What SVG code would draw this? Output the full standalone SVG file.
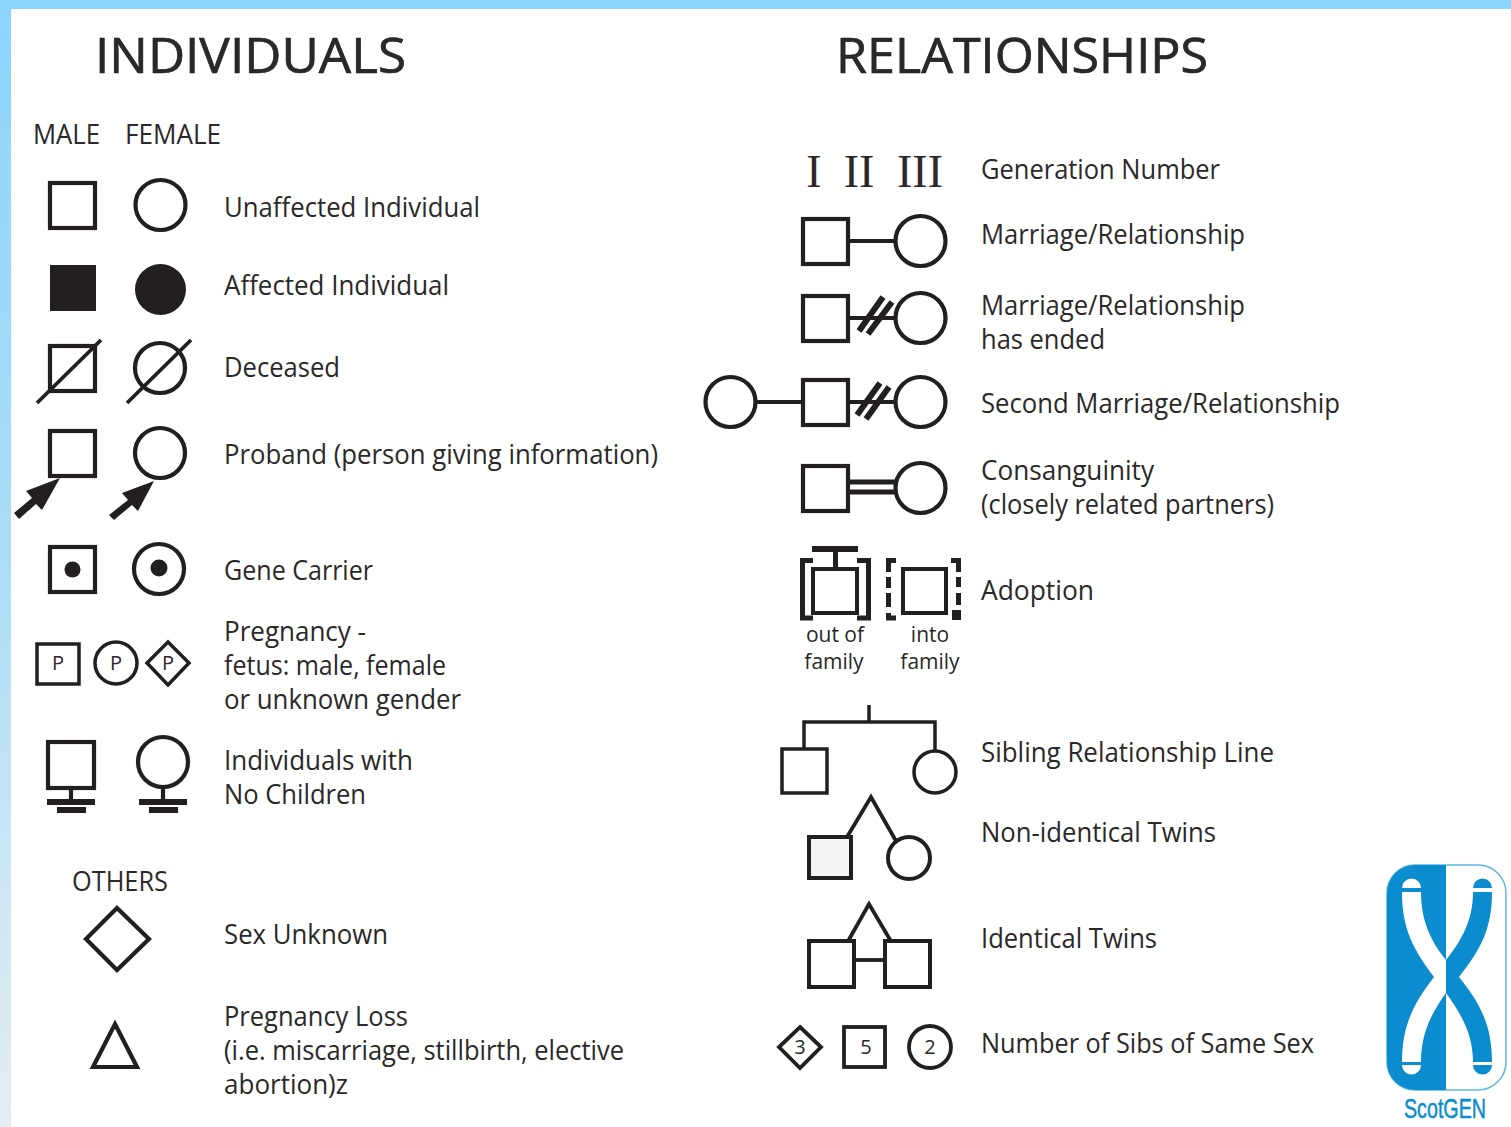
<svg xmlns="http://www.w3.org/2000/svg" width="1511" height="1127" viewBox="0 0 1511 1127">
<style>
text{font-family:"Open Sans","Noto Sans","Liberation Sans",sans-serif;fill:#2b2829;font-size:27px}
.h{font-size:50px;stroke:#231f20;stroke-width:.7}
.s{font-size:21px;text-anchor:middle}
.m{font-size:20px;text-anchor:middle}
.o{fill:#fff;stroke:#231f20;stroke-width:4.2}
.n{fill:none;stroke:#231f20;stroke-width:4.2}
.l{fill:none;stroke:#231f20;stroke-width:3.800}
.k{fill:#231f20;stroke:none}
.r{font-family:"Liberation Serif",serif;font-size:46px;text-anchor:middle}
</style>
<defs>
<linearGradient id="side" x1="0" y1="0" x2="0" y2="1"><stop offset="0" stop-color="#8cd6fd"/><stop offset="0.45" stop-color="#a8dcf6"/><stop offset="1" stop-color="#e4eef3"/></linearGradient>
</defs>
<rect width="1511" height="1127" fill="#fff"/>
<rect x="0" y="0" width="11" height="1127" fill="url(#side)"/>
<rect x="0" y="0" width="1511" height="9" fill="#8cd6fd"/>

<g id="headers">
<text class="h" x="95" y="73" textLength="311" lengthAdjust="spacingAndGlyphs">INDIVIDUALS</text>
<text class="h" x="836" y="73" textLength="372" lengthAdjust="spacingAndGlyphs">RELATIONSHIPS</text>
<text x="33" y="144" textLength="67" lengthAdjust="spacingAndGlyphs">MALE</text>
<text x="125" y="144" textLength="96" lengthAdjust="spacingAndGlyphs">FEMALE</text>
<text x="72" y="891" textLength="96" lengthAdjust="spacingAndGlyphs">OTHERS</text>
</g>

<g id="unaffected">
<rect class="o" x="50" y="183" width="45" height="45"/>
<circle class="o" cx="160.500" cy="205" r="25"/>
<text x="224" y="217" textLength="256" lengthAdjust="spacingAndGlyphs">Unaffected Individual</text>
</g>
<g id="affected">
<rect class="k" x="50" y="265" width="46" height="46"/>
<circle class="k" cx="160.500" cy="289.500" r="25.500"/>
<text x="224" y="295" textLength="225" lengthAdjust="spacingAndGlyphs">Affected Individual</text>
</g>
<g id="deceased">
<rect class="o" x="50" y="346" width="45" height="45"/>
<line class="l" x1="37" y1="403" x2="101" y2="340"/>
<circle class="o" cx="160" cy="368" r="25"/>
<line class="l" x1="127" y1="403" x2="191" y2="340"/>
<text x="224" y="377" textLength="116" lengthAdjust="spacingAndGlyphs">Deceased</text>
</g>
<g id="proband">
<rect class="o" x="50" y="431" width="45" height="45"/>
<path class="k" d="M60 478L26 491 32 498 14 513 19 519 36 504 42 510Z"/>
<circle class="o" cx="160" cy="453" r="25"/>
<path class="k" d="M154 481L122 493 128 500 109 515 114 520 132 505 138 511Z"/>
<text x="224" y="464" textLength="434" lengthAdjust="spacingAndGlyphs">Proband (person giving information)</text>
</g>
<g id="carrier">
<rect class="o" x="50" y="547" width="45" height="45"/>
<circle class="k" cx="72.500" cy="569.500" r="8"/>
<circle class="o" cx="159" cy="569" r="25"/>
<circle class="k" cx="159" cy="568" r="8.500"/>
<text x="224" y="580" textLength="149" lengthAdjust="spacingAndGlyphs">Gene Carrier</text>
</g>
<g id="pregnancy">
<rect class="l" style="stroke-width:3.500" x="37" y="644" width="42" height="40"/>
<text class="m" x="58" y="670">P</text>
<circle class="l" style="stroke-width:3.500" cx="116" cy="663" r="21"/>
<text class="m" x="116" y="670">P</text>
<path class="l" style="stroke-width:3.500" d="M168 642L189 663 168 685 147 663Z"/>
<text class="m" x="168" y="670">P</text>
<text x="224" y="641" textLength="142" lengthAdjust="spacingAndGlyphs">Pregnancy -</text>
<text x="224" y="675" textLength="222" lengthAdjust="spacingAndGlyphs">fetus: male, female</text>
<text x="224" y="709" textLength="237" lengthAdjust="spacingAndGlyphs">or unknown gender</text>
</g>
<g id="no-children">
<rect class="o" x="48" y="742" width="46" height="46"/>
<path class="n" d="M71 788V801"/>
<path class="k" d="M47 799H95V805H47ZM57 807H86V813H57Z"/>
<circle class="o" cx="163" cy="762" r="25"/>
<path class="n" d="M163 787V801"/>
<path class="k" d="M139 799H187V805H139ZM149 807H178V813H149Z"/>
<text x="224" y="770" textLength="189" lengthAdjust="spacingAndGlyphs">Individuals with</text>
<text x="224" y="804" textLength="142" lengthAdjust="spacingAndGlyphs">No Children</text>
</g>
<g id="sex-unknown">
<path class="o" d="M117 908L149 939 117 970 86 939Z"/>
<text x="224" y="944" textLength="164" lengthAdjust="spacingAndGlyphs">Sex Unknown</text>
</g>
<g id="pregnancy-loss">
<path class="o" d="M115 1024L137 1067H93Z"/>
<text x="224" y="1026" textLength="184" lengthAdjust="spacingAndGlyphs">Pregnancy Loss</text>
<text x="224" y="1060" textLength="400" lengthAdjust="spacingAndGlyphs">(i.e. miscarriage, stillbirth, elective</text>
<text x="224" y="1094" textLength="124" lengthAdjust="spacingAndGlyphs">abortion)z</text>
</g>

<g id="generation">
<text class="r" x="814" y="187">I</text>
<text class="r" x="859" y="187">II</text>
<text class="r" x="920" y="187">III</text>
<text x="981" y="179" textLength="239" lengthAdjust="spacingAndGlyphs">Generation Number</text>
</g>

<g id="connectors">
<line class="l" x1="848" y1="241" x2="895" y2="241"/>
<line class="l" x1="848" y1="318" x2="895" y2="318"/>
<path class="l" style="stroke-width:6" d="M859 331L883 297M868 334L892 302"/>
<line class="l" x1="755" y1="402" x2="803" y2="402"/>
<line class="l" x1="848" y1="402" x2="895" y2="402"/>
<path class="l" style="stroke-width:6" d="M857 415L880 383M866 419L889 387"/>
<path class="l" style="stroke-width:5" d="M848 482H895M848 492H895"/>
<path class="l" style="stroke-width:3.500" d="M869 705V722M804 750V722H935V752"/>
<path class="l" d="M847 837L871 797 896 841"/>
<path class="l" d="M847 943L869 904 892 943"/>
<line class="l" x1="855" y1="960" x2="885" y2="960"/>
</g>

<g id="marriage">
<rect class="o" x="803" y="219" width="45" height="45"/>
<circle class="o" cx="920.500" cy="241" r="25"/>
<text x="981" y="244" textLength="264" lengthAdjust="spacingAndGlyphs">Marriage/Relationship</text>
</g>
<g id="marriage-ended">
<rect class="o" x="803" y="296" width="45" height="45"/>
<circle class="o" cx="920.500" cy="318" r="25"/>
<text x="981" y="315" textLength="264" lengthAdjust="spacingAndGlyphs">Marriage/Relationship</text>
<text x="981" y="349" textLength="124" lengthAdjust="spacingAndGlyphs">has ended</text>
</g>
<g id="second-marriage">
<circle class="o" cx="730.500" cy="402" r="25"/>
<rect class="o" x="803" y="380" width="45" height="45"/>
<circle class="o" cx="920.500" cy="402" r="25"/>
<text x="981" y="413" textLength="359" lengthAdjust="spacingAndGlyphs">Second Marriage/Relationship</text>
</g>
<g id="consanguinity">
<rect class="o" x="803" y="466" width="45" height="45"/>
<circle class="o" cx="920.500" cy="488" r="25"/>
<text x="981" y="480" textLength="173" lengthAdjust="spacingAndGlyphs">Consanguinity</text>
<text x="981" y="514" textLength="293" lengthAdjust="spacingAndGlyphs">(closely related partners)</text>
</g>
<g id="adoption">
<path class="k" d="M812 546H858V552H838V569H833V552H812Z"/>
<rect class="n" x="813" y="569" width="44" height="44" style="stroke-width:4"/>
<path class="n" d="M813 560.500H802.500V618H813M857 560.500H868.500V618H857" style="stroke-width:5"/>
<rect class="n" x="903" y="569" width="43" height="44" style="stroke-width:4"/>
<path class="n" d="M896 560.500H888.500V572" style="stroke-width:5"/>
<path class="n" d="M888.500 577V588M888.500 593V607" style="stroke-width:5"/>
<path class="n" d="M888.500 613V618H896" style="stroke-width:5"/>
<path class="n" d="M951 560.500H958.500V572" style="stroke-width:5"/>
<path class="n" d="M958.500 577V587M958.500 593V605" style="stroke-width:5"/>
<path class="k" d="M952 610H961V620H952Z"/>
<text class="s" x="835" y="642">out of</text>
<text class="s" x="834" y="669">family</text>
<text class="s" x="930" y="642">into</text>
<text class="s" x="930" y="669">family</text>
<text x="981" y="600" textLength="113" lengthAdjust="spacingAndGlyphs">Adoption</text>
</g>
<g id="sibling">
<rect class="l" style="stroke-width:3.500" x="782" y="749" width="45" height="44"/>
<circle class="o" style="stroke-width:3.500" cx="935" cy="772" r="21"/>
<text x="981" y="762" textLength="293" lengthAdjust="spacingAndGlyphs">Sibling Relationship Line</text>
</g>
<g id="non-identical-twins">
<rect style="fill:#f5f5f5;stroke:#231f20;stroke-width:4" x="809" y="837" width="42" height="41"/>
<circle class="o" style="stroke-width:4" cx="909" cy="858" r="21"/>
<text x="981" y="842" textLength="235" lengthAdjust="spacingAndGlyphs">Non-identical Twins</text>
</g>
<g id="identical-twins">
<rect class="o" style="stroke-width:4" x="809" y="941" width="45" height="46"/>
<rect class="o" style="stroke-width:4" x="885" y="941" width="45" height="46"/>
<text x="981" y="948" textLength="176" lengthAdjust="spacingAndGlyphs">Identical Twins</text>
</g>
<g id="sibs">
<path class="l" d="M800 1027L821 1047 800 1068 779 1047Z"/>
<text class="m" x="800" y="1054">3</text>
<rect class="l" x="844" y="1027" width="41" height="40"/>
<text class="m" x="866" y="1054">5</text>
<circle class="l" cx="930" cy="1047" r="21"/>
<text class="m" x="930" y="1054">2</text>
<text x="981" y="1053" textLength="333" lengthAdjust="spacingAndGlyphs">Number of Sibs of Same Sex</text>
</g>

<g id="logo">
<rect x="1387" y="865" width="119" height="225" rx="28" fill="#fff" stroke="#5ab8e4" stroke-width="1.500"/>
<path d="M1446 865V1090H1415A28 28 0 0 1 1387 1062V893A28 28 0 0 1 1415 865Z" fill="#0b8ccf"/>
<path d="M1402 892C1402 930 1414 950 1434 977 1414 1003 1402 1025 1402 1062H1421C1421 1035 1430 1015 1446 993V960C1430 940 1421 920 1421 892Z" fill="#fff"/>
<path d="M1402 888A9.500 9.500 0 0 1 1421 888ZM1402 1065H1421A9.500 9.500 0 0 1 1402 1065Z" fill="#fff"/>
<path d="M1492 892C1492 930 1480 950 1459 977 1480 1003 1492 1025 1492 1062H1473C1473 1035 1462 1015 1446 993V960C1462 940 1473 920 1473 892Z" fill="#0b8ccf"/>
<path d="M1473 888A9.500 9.500 0 0 1 1492 888ZM1473 1065H1492A9.500 9.500 0 0 1 1473 1065Z" fill="#0b8ccf"/>
<text x="1404" y="1118" style="font-family:'Liberation Sans',sans-serif;fill:#0b8ccf;font-size:28px;stroke:#0b8ccf;stroke-width:.5" textLength="82" lengthAdjust="spacingAndGlyphs">ScotGEN</text>
</g>
</svg>
